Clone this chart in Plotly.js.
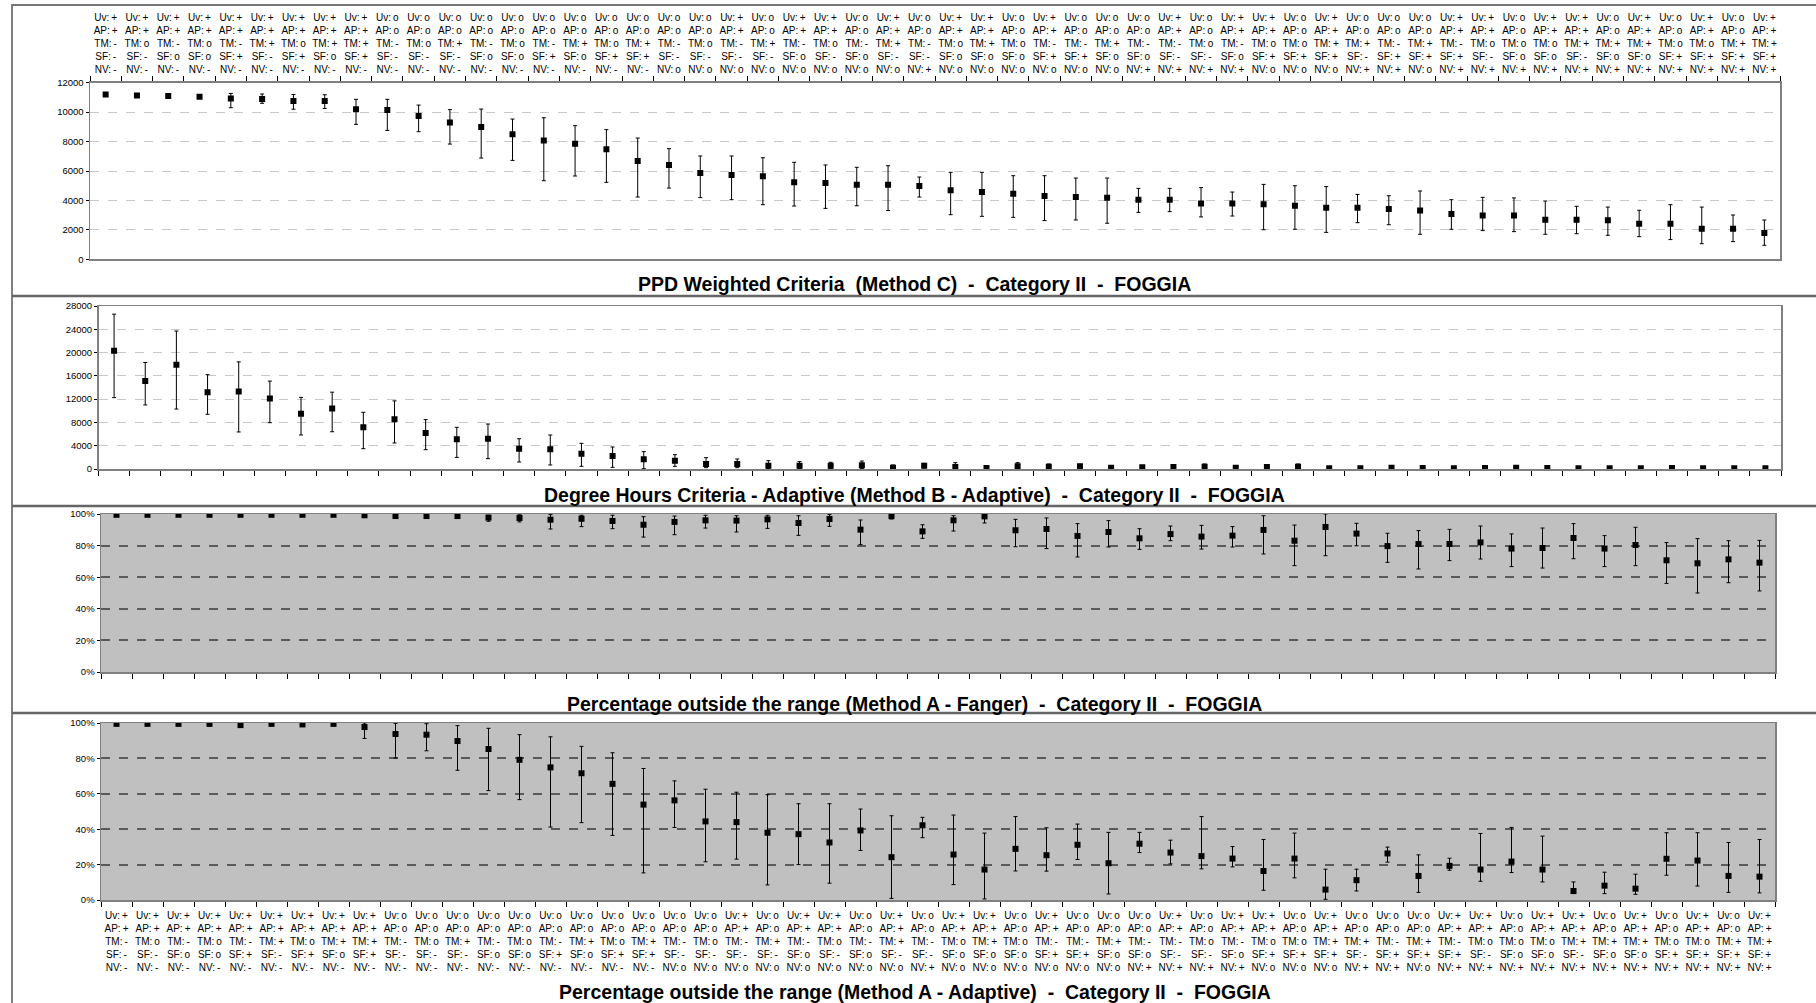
<!DOCTYPE html>
<html>
<head>
<meta charset="utf-8">
<script src="https://cdn.plot.ly/plotly-3.0.1.min.js"></script>
<style>html,body{margin:0;padding:0;background:#fff;}#chart{width:1816px;height:1003px;}</style>
</head>
<body>
<div id="chart"></div>
<script>
// ---- category codes (one entry per configuration) ----
const UV = ['+','+','+','+','+','+','+','+','+','o','o','o','o','o','o','o','o','o','o','o','+','o','+','+','o','+','o','+','+','o','+','o','o','o','+','o','+','+','o','+','o','o','o','+','+','o','+','+','o','+','o','+','o','+'];
const AP = UV.slice();
const TM = ['-','o','-','o','-','+','o','+','+','-','o','+','-','o','-','+','o','+','-','o','-','+','-','o','-','+','-','o','+','o','-','-','+','-','-','o','-','o','o','+','+','-','+','-','o','o','o','+','+','+','o','o','+','+'];
const SF = ['-','-','o','o','+','-','+','o','+','-','-','-','o','o','+','o','+','+','-','-','-','-','o','-','o','-','-','o','o','o','+','+','o','o','-','-','o','+','+','+','-','+','+','+','-','o','o','-','o','o','+','+','+','+'];
const NV = ['-','-','-','-','-','-','-','-','-','-','-','-','-','-','-','-','-','-','o','o','o','o','o','o','o','o','+','o','o','o','o','o','o','+','+','+','+','o','o','o','+','+','o','+','+','+','+','+','+','+','+','+','+','+'];

// ---- Panel 1: PPD Weighted Criteria (Method C) ----
const ppdMid  = [11200,11130,11100,11050,10930,10900,10750,10750,10200,10140,9730,9300,8990,8490,8080,7860,7470,6680,6410,5860,5730,5640,5230,5180,5070,5070,4980,4690,4570,4460,4300,4230,4190,4050,4050,3800,3800,3740,3640,3510,3510,3420,3310,3080,2970,2970,2690,2690,2650,2420,2420,2080,2080,1790];
const ppdLow  = [11100,11050,11000,10950,10300,10600,10200,10250,9170,8760,8670,7830,6880,6720,5340,5660,5230,4230,4840,4190,4050,3710,3620,3460,3640,3310,4230,3030,2920,2850,2630,2670,2450,3190,3240,2880,2940,2010,2040,1830,2490,2350,1700,2040,1950,1880,1700,1740,1630,1540,1340,1060,1200,950];
const ppdHigh = [11300,11250,11200,11150,11270,11230,11200,11180,10870,10870,10480,10170,10210,9530,9620,9080,8810,8240,7520,7020,7020,6900,6590,6410,6250,6360,5590,5910,5910,5680,5680,5520,5520,4820,4820,4870,4570,5090,5000,4940,4410,4320,4640,4050,4210,4170,3960,3600,3550,3330,3710,3550,3010,2670];

// ---- Panel 2: Degree Hours Criteria - Adaptive (Method B) ----
const dhMid  = [20330,15100,17900,13200,13300,12100,9500,10400,7160,8530,6190,5100,5200,3490,3380,2630,2230,1660,1430,860,860,570,570,570,630,230,570,340,170,460,400,460,230,290,340,400,230,340,400,110,110,230,170,110,170,230,170,110,110,110,170,110,110,110];
const dhLow  = [12260,11000,10300,9400,6360,7960,5840,6400,3490,4470,3320,2000,1780,1200,690,460,290,60,460,230,230,50,100,100,100,50,200,50,50,100,100,100,50,100,100,100,50,100,100,50,50,50,50,50,50,50,50,50,50,50,50,50,50,50];
const dhHigh = [26600,18300,23700,16200,18400,15100,12300,13200,9740,11700,8480,7160,7730,5200,5840,4410,3780,2980,2460,1950,1720,1430,1260,1150,1370,690,970,1090,400,1090,860,800,500,570,570,860,500,690,860,250,250,400,300,250,300,400,300,250,250,250,300,250,250,250];

// ---- Panel 3: Percentage outside the range (Method A - Fanger) ----
const faMid  = [99.5,99.5,99.5,99.5,99.5,99.5,99.5,99.5,99.2,98.7,98.7,98.7,97.7,97.5,96.4,97,95.6,93.2,95,96,95.8,96.6,94.3,96.8,90.1,98.7,89,96,98.5,89.7,90.5,86.1,88.6,84.6,87.3,85.7,86.3,89.9,83.1,91.8,87.6,79.7,81,81,82,78.1,78.5,84.8,78.1,80.4,70.7,68.8,71.3,69.2];
const faLow  = [99,99,99,99,99,99,99,99,98.5,97.8,97.8,97.8,95.4,95,90.5,92,90.7,85.4,86.9,91.1,88.6,90.9,86.5,92.2,80.6,96.8,84.6,89.2,94.3,79.3,78.1,72.8,79.1,77.6,83.1,77.8,79.1,74.7,67.3,73.6,79.9,69.4,65.2,70.5,71.5,66.7,65.8,71.7,66.7,67.3,56.1,50,56.5,51.3];
const faHigh = [100,100,100,100,100,100,100,100,100,99.5,99.5,99.5,99.2,99.5,99.6,99.2,99.2,98.3,98.7,99.2,98.9,99.2,98.9,99.6,96.2,100,93.2,98.9,100,96.6,97.5,93.9,95.8,90.7,92.4,92.8,92,98.9,93,100,94.1,87.8,89.5,90.3,92.4,87.4,91.1,93.9,86.3,91.6,81.9,84.4,83.1,83.3];

// ---- Panel 4: Percentage outside the range (Method A - Adaptive) ----
const adMid  = [99.5,99.5,99.5,99.5,98.8,99.5,99.2,99.5,97.7,93.8,93.4,89.8,85.3,79.2,74.9,71.6,65.6,53.9,56.3,44.4,44,38,37.2,32.5,39.3,24.2,42.2,25.7,17.2,28.9,25.3,31.2,20.8,31.8,26.8,24.8,23.4,16.4,23.4,5.9,11.2,26.3,13.6,19.3,17.2,21.7,17.2,5.1,8.1,6.4,23.3,22.3,13.6,13.2];
const adLow  = [99,99,99,99,97.5,99,98.5,99,91.3,80.2,84.3,73.3,61.8,56.7,41.2,43.7,36.5,15.3,41,21.6,23.1,8.5,20,9.5,28,0.9,35.2,8.7,0.6,16.4,16.3,22.9,3.4,26.8,20.4,17.6,18.7,5.5,12.5,0.4,5.1,21.4,4.3,16.8,10.6,15.5,10.2,3.6,3.6,3.2,14,7.9,4.3,4];
const adHigh = [100,100,100,100,100,100,100,100,100,99.8,99.6,98.5,97,93.4,92.2,86.8,83.2,74.3,67.3,62.6,60.9,59.5,54.4,54.4,51.4,47.6,46.7,48,37.8,47.1,40.8,42.9,38.2,38.2,33.8,47.1,30.2,34.2,37.8,17.4,17.4,29.9,25.5,23.6,37.6,41,36.1,10.2,15.7,14.6,38,38,32.5,34.2];

const titles = [
  'PPD Weighted Criteria  (Method C)  -  Category II  -  FOGGIA',
  'Degree Hours Criteria - Adaptive (Method B - Adaptive)  -  Category II  -  FOGGIA',
  'Percentage outside the range (Method A - Fanger)  -  Category II  -  FOGGIA',
  'Percentage outside the range (Method A - Adaptive)  -  Category II  -  FOGGIA'
];

// ---- build ----
const W = 1816, H = 1003;
const px = v => v / W, py = v => 1 - v / H;
const S = '\u2009';
const labels = UV.map((u, i) => 'Uv:' + S + u + '<br>AP:' + S + AP[i] + '<br>TM:' + S + TM[i] + '<br>SF:' + S + SF[i] + '<br>NV:' + S + NV[i]);
const FONT = 'Liberation Sans, Arial, sans-serif';

function trace(mid, lo, hi, n) {
  return {
    type: 'scatter', mode: 'markers',
    x: labels, y: mid,
    xaxis: 'x' + (n === 1 ? '' : n), yaxis: 'y' + (n === 1 ? '' : n),
    marker: {symbol: 'square', size: 6, color: '#000'},
    error_y: {type: 'data', symmetric: false,
      array: hi.map((h, i) => h - mid[i]),
      arrayminus: lo.map((l, i) => mid[i] - l),
      color: '#000', thickness: 1, width: 2},
    showlegend: false, hoverinfo: 'skip'
  };
}

const data = [
  trace(ppdMid, ppdLow, ppdHigh, 1),
  trace(dhMid, dhLow, dhHigh, 2),
  trace(faMid, faLow, faHigh, 3),
  trace(adMid, adLow, adHigh, 4)
];

// panel geometry in pixels: [left, right, top, bottom]
const geo = [
  [90, 1780, 82.7, 259.3],
  [98.5, 1781, 306, 469],
  [101, 1775, 514, 672],
  [101, 1775, 723, 900]
];

function xax(i, showLabels, side, standoff) {
  return {
    type: 'category', domain: [px(geo[i][0]), px(geo[i][1])],
    anchor: 'y' + (i === 0 ? '' : i + 1),
    side: side, range: [-0.5, 53.5],
    tickson: 'boundaries', ticks: 'outside', ticklen: 5, tickcolor: '#000', tickwidth: 1,
    showticklabels: showLabels, tickangle: 0, ticklabelstandoff: standoff || 0,
    tickfont: {family: FONT, size: 10, color: '#000'},
    showgrid: false, showline: true, linecolor: '#808080', linewidth: 1.5, mirror: true,
    zeroline: false, fixedrange: true
  };
}
function yax(i, range, dtick, grid, suffix) {
  return {
    domain: [py(geo[i][3]), py(geo[i][2])],
    anchor: 'x' + (i === 0 ? '' : i + 1),
    range: range, dtick: dtick, tick0: 0, tickformat: 'd', ticksuffix: suffix || '',
    ticks: 'outside', ticklen: 3, tickcolor: '#000',
    tickfont: {family: FONT, size: 9.5, color: '#000'},
    showgrid: true, gridcolor: grid.c, gridwidth: grid.w, griddash: 'dash',
    showline: true, linecolor: '#808080', linewidth: 1.5, mirror: true,
    zeroline: false, fixedrange: true
  };
}

const lightGrid = {c: '#c8c8c8', w: 1};
const darkGrid = {c: '#5a5a5a', w: 2};

const shapes = [];
// gray plot backgrounds for panels 3 and 4
[2, 3].forEach(i => shapes.push({type: 'rect', xref: 'paper', yref: 'paper', layer: 'below',
  x0: px(geo[i][0]), x1: px(geo[i][1]), y0: py(geo[i][3]), y1: py(geo[i][2]),
  fillcolor: '#c0c0c0', line: {width: 0}}));
// outer frame and separators
shapes.push({type: 'line', xref: 'paper', yref: 'paper', x0: px(12), x1: px(12), y0: 0, y1: py(4), line: {color: '#555', width: 1.5}});
shapes.push({type: 'line', xref: 'paper', yref: 'paper', x0: px(12), x1: 1, y0: py(5), y1: py(5), line: {color: '#777', width: 2}});
[296, 506, 713].forEach(y => shapes.push({type: 'line', xref: 'paper', yref: 'paper', x0: px(12), x1: 1, y0: py(y), y1: py(y), line: {color: '#666', width: 2.5}}));

const titleY = [284, 495, 704, 992];
const annotations = titles.map((t, i) => ({
  text: t, xref: 'paper', yref: 'paper', x: px(915), y: py(titleY[i]),
  xanchor: 'center', yanchor: 'middle', showarrow: false,
  font: {family: FONT, size: 19.5, color: '#000', weight: 'bold'}
}));

const layout = {
  width: W, height: H, margin: {l: 0, r: 0, t: 0, b: 0},
  paper_bgcolor: '#fff', plot_bgcolor: 'rgba(0,0,0,0)',
  xaxis: xax(0, true, 'top', 4),
  xaxis2: xax(1, false, 'bottom'),
  xaxis3: xax(2, false, 'bottom'),
  xaxis4: xax(3, true, 'bottom', 5),
  yaxis: yax(0, [0, 12000], 2000, lightGrid),
  yaxis2: yax(1, [0, 28000], 4000, lightGrid),
  yaxis3: yax(2, [0, 100], 20, darkGrid, '%'),
  yaxis4: yax(3, [0, 100], 20, darkGrid, '%'),
  shapes: shapes, annotations: annotations
};

Plotly.newPlot('chart', data, layout, {displayModeBar: false, staticPlot: true});
</script>
</body>
</html>
